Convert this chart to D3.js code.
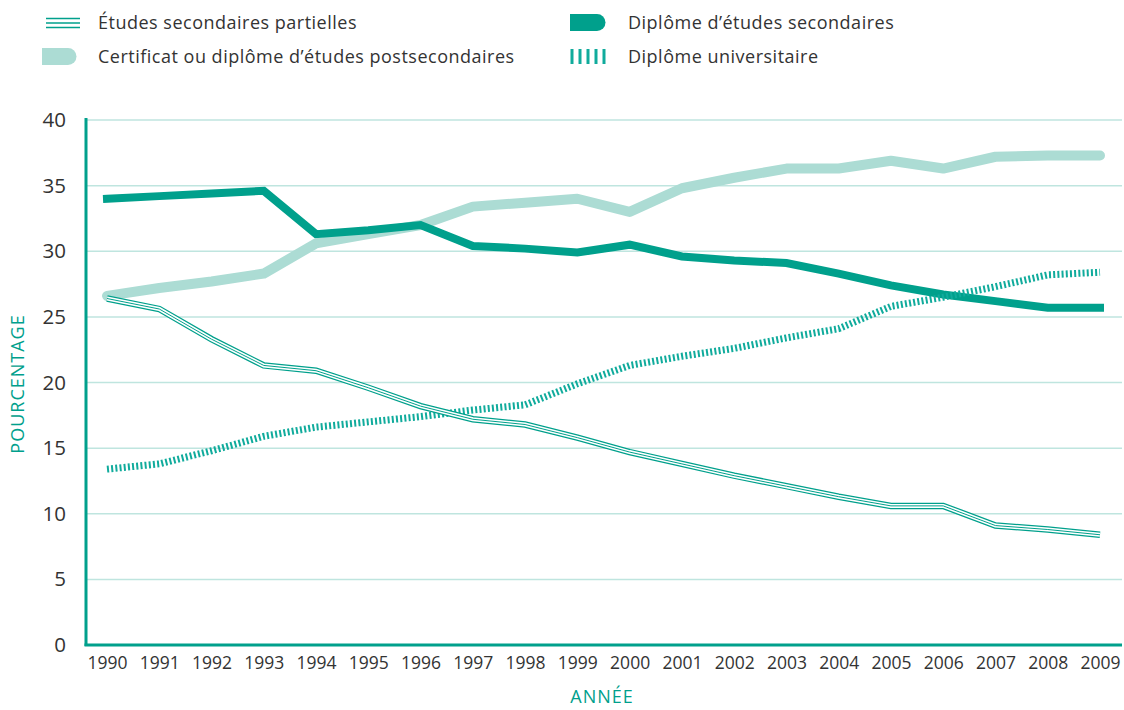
<!DOCTYPE html>
<head>
  <meta charset="utf-8">
  <script src="https://d3js.org/d3.v7.min.js"></script>
  <style>
    body { margin: 0; background: #fff; }
    svg { display: block; font-family: "Open Sans", Lato, sans-serif; }
  </style>
</head>
<body>
  <svg id="chart"></svg>
<script>

    var years = d3.range(1990, 2010);
    var partielles = [26.4, 25.6, 23.3, 21.3, 20.9, 19.6, 18.2, 17.2, 16.8, 15.8, 14.7, 13.8, 12.9, 12.1, 11.3, 10.6, 10.6, 9.1, 8.8, 8.4];
    var secondaires = [34.0, 34.2, 34.4, 34.6, 31.3, 31.6, 32.0, 30.4, 30.2, 29.9, 30.5, 29.6, 29.3, 29.1, 28.3, 27.4, 26.7, 26.2, 25.7, 25.7];
    var postsec = [26.6, 27.2, 27.7, 28.3, 30.6, 31.3, 32.0, 33.4, 33.7, 34.0, 33.0, 34.8, 35.6, 36.3, 36.3, 36.9, 36.3, 37.2, 37.3, 37.3];
    var universite = [13.4, 13.8, 14.8, 15.9, 16.6, 17.0, 17.4, 17.9, 18.3, 19.9, 21.3, 22.0, 22.6, 23.4, 24.1, 25.8, 26.5, 27.3, 28.2, 28.4];
    var yTicks = [0, 5, 10, 15, 20, 25, 30, 35, 40];

    var width = 1124, height = 710;
    var dark = '#00a08c', light = '#acdcd4', grid = '#bfe5df', ink = '#333';

    var svg = d3.select('#chart').attr('width', width).attr('height', height);

    var x = d3.scalePoint().domain(years).range([107, 1100]);
    var y = d3.scaleLinear().domain([0, 40]).range([645, 120]);

    // grille
    svg.append('g').selectAll('line')
      .data(yTicks.filter(function (d) { return d > 0; }))
      .enter().append('line')
      .attr('x1', 86).attr('x2', 1122)
      .attr('y1', function (d) { return y(d); }).attr('y2', function (d) { return y(d); })
      .style('stroke', grid).style('stroke-width', 1.5);

    // axes
    var yAxis = svg.append('g')
      .attr('transform', 'translate(86,0)')
      .call(d3.axisLeft(y).tickValues(yTicks).tickSize(0).tickPadding(20));
    yAxis.select('.domain').remove();
    yAxis.selectAll('text').style('font-size', '20.5px').style('fill', ink).style('font-family', '"Open Sans", sans-serif');

    var xAxis = svg.append('g')
      .attr('transform', 'translate(0,645)')
      .call(d3.axisBottom(x).tickSize(0).tickPadding(12));
    xAxis.select('.domain').remove();
    xAxis.selectAll('text').style('font-size', '17.5px').style('fill', ink).style('font-family', '"Open Sans", sans-serif');

    svg.append('line').attr('x1', 86).attr('x2', 86).attr('y1', 118).attr('y2', 646)
      .style('stroke', dark).style('stroke-width', 3);
    svg.append('line').attr('x1', 84.5).attr('x2', 1122).attr('y1', 645).attr('y2', 645)
      .style('stroke', dark).style('stroke-width', 3);

    svg.append('text')
      .attr('transform', 'translate(24,384)rotate(-90)')
      .attr('text-anchor', 'middle')
      .style('fill', dark).style('font-size', '18px').style('letter-spacing', '1px')
      .text('POURCENTAGE');
    svg.append('text')
      .attr('x', 602).attr('y', 703)
      .attr('text-anchor', 'middle')
      .style('fill', dark).style('font-size', '18px').style('letter-spacing', '1px')
      .text('ANNÉE');

    function lineOf(vals) {
      return d3.line()
        .x(function (d, i) { return x(years[i]); })
        .y(function (d) { return y(d); })(vals);
    }

    // courbes
    svg.append('path').attr('d', lineOf(postsec))
      .style('fill', 'none').style('stroke', light).style('stroke-width', 10)
      .style('stroke-linecap', 'round').style('stroke-linejoin', 'round');

    svg.append('path').attr('d', lineOf(secondaires))
      .style('fill', 'none').style('stroke', dark).style('stroke-width', 8)
      .style('stroke-linecap', 'square');

    svg.append('path').attr('d', lineOf(universite))
      .style('fill', 'none').style('stroke', '#10ab9c').style('stroke-width', 7)
      .style('stroke-dasharray', '2 2.2');

    var triple = svg.append('g');
    triple.append('path').attr('d', lineOf(partielles))
      .style('fill', 'none').style('stroke', dark).style('stroke-width', 6.5);
    triple.append('path').attr('d', lineOf(partielles))
      .style('fill', 'none').style('stroke', '#fff').style('stroke-width', 4);
    triple.append('path').attr('d', lineOf(partielles))
      .style('fill', 'none').style('stroke', dark).style('stroke-width', 1);

    // légende
    var leg = svg.append('g');
    [18.5, 23, 27.5].forEach(function (yy) {
      leg.append('line').attr('x1', 46).attr('x2', 80).attr('y1', yy).attr('y2', yy)
        .style('stroke', dark).style('stroke-width', 1.4);
    });
    leg.append('path').attr('d', 'M42,48H68a8,8 0 0 1 0,17H42Z').style('fill', light);
    leg.append('path').attr('d', 'M570,14H597a8.5,8.5 0 0 1 0,17H570Z').style('fill', dark);
    [572, 580, 588, 596, 604].forEach(function (xx) {
      leg.append('rect').attr('x', xx - 1.5).attr('y', 49).attr('width', 3).attr('height', 15).style('fill', '#10ab9c');
    });

    var labels = [
      { x: 98, y: 29, t: 'Études secondaires partielles' },
      { x: 98, y: 63, t: 'Certificat ou diplôme d’études postsecondaires' },
      { x: 628, y: 29, t: 'Diplôme d’études secondaires' },
      { x: 628, y: 63, t: 'Diplôme universitaire' }
    ];
    leg.selectAll('text.lbl').data(labels).enter().append('text')
      .attr('class', 'lbl')
      .attr('x', function (d) { return d.x; }).attr('y', function (d) { return d.y; })
      .style('font-size', '18px').style('letter-spacing', '0.5px').style('fill', ink)
      .text(function (d) { return d.t; });

</script>
</body>
